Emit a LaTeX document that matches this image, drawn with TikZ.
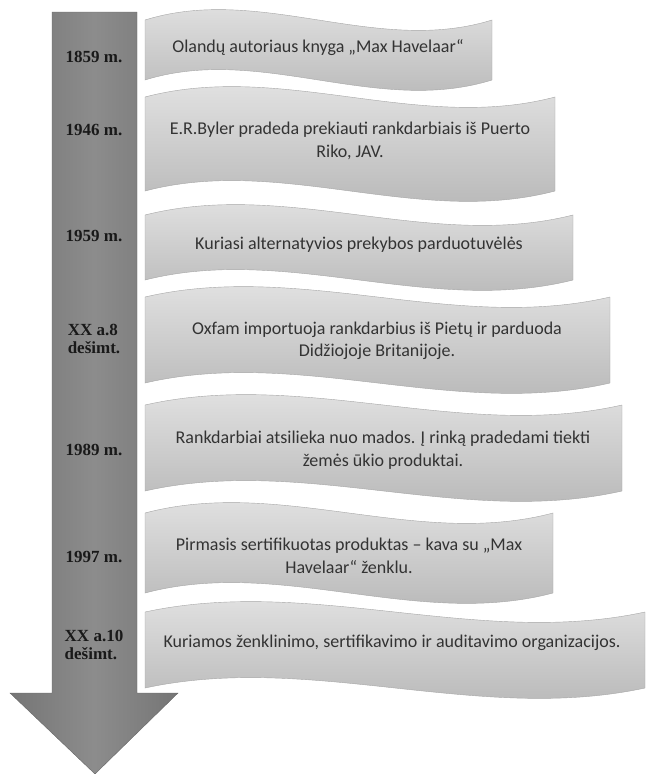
\documentclass[tikz,border=0pt]{standalone}
\usepackage{fontspec}
\setmainfont{Carlito}
\newfontfamily\yearfont{Liberation Serif}
\usepackage{tikz}

\begin{document}
\begin{tikzpicture}[x=1pt,y=-1pt,
	banner/.style={draw=black!35, top color=black!9, bottom color=black!30},
	shaft/.style={draw=black!60, left color=black!54, right color=black!54, middle color=black!45},
	evtext/.style={align=center, text=black!80, font=\fontsize{18}{22.5}\selectfont},
	yrtext/.style={align=left, text=black!90, font=\yearfont\bfseries\fontsize{17}{18}\selectfont}]
	\useasboundingbox (0,0) rectangle (647,774);
	\draw[shaft] (52,12) -- (137,12) -- (137,693) -- (178,693) -- (95,774) -- (10,693) -- (52,693) -- cycle;
	\foreach \l/\r/\t/\b in {145/492/20/80, 145/555/97/191, 145/573/215/280, 145/610/297/383, 145/622/405/491, 145/553/513/593, 145/645/612/688}
	{
		\pgfmathsetmacro\ca{\l+(\r-\l)/3}
		\pgfmathsetmacro\cb{\l+2*(\r-\l)/3}
		\draw[banner] (\l,\t) .. controls (\ca,\t-36) and (\cb,\t+36) .. (\r,\t) -- (\r,\b) .. controls (\cb,\b+36) and (\ca,\b-36) .. (\l,\b) -- cycle;
	}
	\foreach \y/\txt [count=\i] in {57/1859 m., 130/1946 m., 236/1959 m., 339/{XX a.8\\dešimt.}, 450/1989 m., 557/1997 m., 645/{XX a.10\\dešimt.}}
		\node[yrtext] (yr\i) at (94,\y) {\txt};
	\foreach \x/\y/\txt [count=\i] in {
		318/48/{Olandų autoriaus knyga „Max Havelaar“},
		350/141/{E.R.Byler pradeda prekiauti rankdarbiais iš Puerto\\Riko, JAV.},
		359/245/{Kuriasi alternatyvios prekybos parduotuvėlės},
		377/341/{Oxfam importuoja rankdarbius iš Pietų ir parduoda\\Didžiojoje Britanijoje.},
		383/450/{Rankdarbiai atsilieka nuo mados. Į rinką pradedami tiekti\\žemės ūkio produktai.},
		349/556/{Pirmasis sertifikuotas produktas – kava su „Max\\Havelaar“ ženklu.},
		392/643/{Kuriamos ženklinimo, sertifikavimo ir auditavimo organizacijos.}}
		\node[evtext] (ev\i) at (\x,\y) {\txt};
\end{tikzpicture}
\end{document}
